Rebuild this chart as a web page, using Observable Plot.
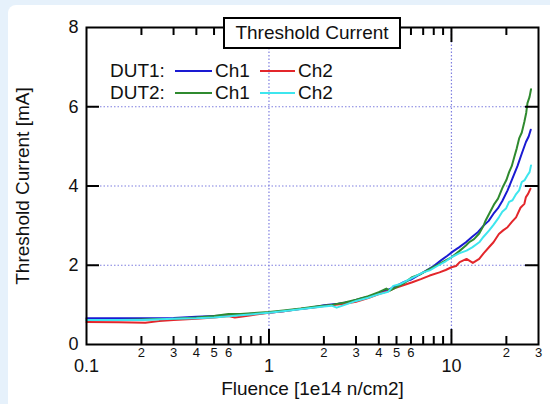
<!DOCTYPE html>
<html><head><meta charset="utf-8">
<script src="https://cdn.jsdelivr.net/npm/d3@7"></script>
<script src="https://cdn.jsdelivr.net/npm/@observablehq/plot@0.6"></script>
<style>
html,body{margin:0;padding:0;background:#e6f1fb;width:550px;height:404px;overflow:hidden;font-family:"Liberation Sans",Arial,sans-serif}
#card{position:absolute;left:8px;top:5px;right:0;bottom:0;background:#fff;border-top-left-radius:8px}
#chart{position:absolute;left:0;top:0}
#title{position:absolute;left:223px;top:17px;width:174px;height:28px;border:2px solid #000;background:#fff;font-size:19px;text-align:center;line-height:28px;color:#111}
.lt{position:absolute;font-size:19px;line-height:19px;color:#111;white-space:nowrap}
.ll{position:absolute;height:2px}
</style></head>
<body>
<div id="card"></div>
<div id="chart"></div>
<div id="title">Threshold Current</div>
<div id="legend"></div>
<script>
// ---- data ----
const blueF = [0.1,0.13,0.17,0.22,0.3,0.4,0.5,0.6,0.7,0.85,1.0,1.2,1.4,1.7,2.0,2.4,2.8,3.2,3.6,4.0,4.5,5.0,5.5,6.0,6.6,7.2,8.0,8.8,9.5,10.2,11.0,12.0,13.0,14.0,15.0,16.0,17.0,18.0,19.0,20.3,21.6,23.0,24.3,25.6,26.5,27.2];
const blueV = [0.66,0.66,0.66,0.66,0.67,0.70,0.72,0.74,0.76,0.78,0.80,0.84,0.88,0.93,0.99,1.03,1.08,1.16,1.22,1.30,1.38,1.48,1.58,1.64,1.75,1.85,1.98,2.13,2.24,2.35,2.45,2.58,2.72,2.84,3.00,3.12,3.30,3.44,3.62,3.89,4.19,4.50,4.82,5.11,5.25,5.42];
const redF = [0.1,0.15,0.21,0.25,0.3,0.4,0.5,0.6,0.65,0.7,0.8,1.0,1.2,1.5,1.8,2.0,2.3,2.6,3.0,3.5,4.04,4.5,5.0,5.5,6.1,6.8,7.6,8.6,9.3,10.0,10.6,11.1,12.1,13.1,14.2,15.0,16.1,17.0,18.2,19.2,20.3,21.5,22.6,23.9,25.1,25.6,26.3,27.1];
const redV = [0.57,0.56,0.55,0.59,0.62,0.65,0.68,0.72,0.68,0.70,0.74,0.80,0.84,0.90,0.94,0.97,1.00,1.03,1.08,1.17,1.28,1.35,1.44,1.50,1.57,1.65,1.74,1.82,1.88,1.95,1.98,2.08,2.16,2.06,2.16,2.30,2.46,2.58,2.79,2.88,2.96,3.10,3.21,3.45,3.55,3.72,3.80,3.93];
const greenF = [0.1,0.15,0.2,0.3,0.4,0.5,0.6,0.7,0.8,1.0,1.2,1.5,1.8,2.2,2.6,3.0,3.5,4.0,4.4,4.6,5.0,5.5,6.1,6.8,7.6,8.5,9.3,10.0,11.0,12.0,12.5,13.3,14.2,15.0,15.4,16.1,17.2,18.0,19.1,20.0,20.7,21.4,22.1,22.8,23.5,24.3,25.1,25.7,26.1,26.8,27.3];
const greenV = [0.62,0.62,0.63,0.65,0.68,0.72,0.77,0.77,0.79,0.82,0.86,0.91,0.96,1.00,1.06,1.13,1.22,1.32,1.41,1.36,1.45,1.55,1.70,1.78,1.91,2.02,2.12,2.20,2.35,2.50,2.58,2.66,2.80,3.00,3.13,3.30,3.55,3.68,3.97,4.15,4.35,4.50,4.73,4.95,5.20,5.35,5.62,5.85,6.09,6.25,6.44];
const cyanF = [0.1,0.15,0.2,0.3,0.4,0.5,0.7,1.0,1.3,1.6,2.0,2.2,2.35,2.6,3.0,3.5,4.0,4.5,4.8,5.2,6.1,7.0,7.6,8.5,9.3,10.0,11.0,12.1,13.0,14.2,15.0,16.1,17.0,18.2,19.0,19.9,20.7,21.6,22.5,23.5,24.3,25.2,26.1,26.8,27.3];
const cyanV = [0.62,0.62,0.62,0.65,0.66,0.68,0.74,0.80,0.86,0.91,0.96,0.98,0.93,1.00,1.10,1.18,1.27,1.33,1.48,1.52,1.68,1.82,1.87,2.00,2.10,2.20,2.30,2.37,2.45,2.58,2.72,2.88,3.02,3.21,3.35,3.43,3.60,3.64,3.78,3.89,4.10,4.15,4.27,4.35,4.52];

const seriesNames = ["DUT1 Ch1","DUT1 Ch2","DUT2 Ch1","DUT2 Ch2"];
const seriesColors = ["#1a1ad2","#e3262b","#2f8a2f","#3ee6ee"];
const legendRows = ["DUT1:","DUT2:"];
const legendItems = ["Ch1","Ch2"];

const yTicks = [0,2,4,6,8];
const yGrid = [2,4,6];
const xGrid = [1,10];
const xMajor = [0.1,1,10];
const xMajorLabels = ["0.1","1","10"];
const xMinor = [0.2,0.3,0.4,0.5,0.6,0.7,0.8,0.9,2,3,4,5,6,7,8,9,20];
const xMinorLabelVals = [0.2,0.3,0.4,0.5,0.6,2,3,4,5,6,20,30];
const xMinorLabels = ["2","3","4","5","6","2","3","4","5","6","2","3"];
const xLabel = "Fluence [1e14 n/cm2]";
const yLabel = "Threshold Current [mA]";

// ---- build ----
const pairs = [[blueF,blueV],[redF,redV],[greenF,greenV],[cyanF,cyanV]];
const data = [];
pairs.forEach(([F,V],i)=>F.forEach((f,j)=>data.push({s:seriesNames[i],f,v:V[j]})));
const order = [0,1,2,3];

const W=550,H=404,mL=86,mR=12,mT=27,mB=60;
const pH=H-mT-mB, pW=W-mL-mR;
const font='"Liberation Sans", Arial, sans-serif';

const chart = Plot.plot({
  width:W,height:H,marginLeft:mL,marginRight:mR,marginTop:mT,marginBottom:mB,
  style:{background:"transparent",fontFamily:font,color:"#111"},
  x:{type:"log",domain:[0.1,30],axis:null},
  y:{domain:[0,8],axis:null},
  color:{domain:seriesNames,range:seriesColors},
  marks:[
    Plot.gridX(xGrid,{stroke:"#7f7fe0",strokeOpacity:1,strokeDasharray:"1.5,2",strokeWidth:1.2}),
    Plot.gridY(yGrid,{stroke:"#7f7fe0",strokeOpacity:1,strokeDasharray:"1.5,2",strokeWidth:1.2}),
    ...order.map(i=>Plot.line(data.filter(d=>d.s===seriesNames[i]),{x:"f",y:"v",stroke:"s",strokeWidth:2})),
    Plot.ruleX(xMinor,{insetTop:pH-8,stroke:"#000",strokeWidth:2}),
    Plot.ruleX(xGrid,{insetTop:pH-15,stroke:"#000",strokeWidth:2}),
    Plot.ruleX(xMinor,{insetBottom:pH-8,stroke:"#000",strokeWidth:2}),
    Plot.ruleX(xGrid,{insetBottom:pH-15,stroke:"#000",strokeWidth:2}),
    Plot.ruleY(yGrid,{insetRight:pW-13,stroke:"#000",strokeWidth:2}),
    Plot.ruleY(yGrid,{insetLeft:pW-13,stroke:"#000",strokeWidth:2}),
    Plot.frame({stroke:"#000",strokeWidth:2}),
    Plot.text(yTicks,{y:d=>d,frameAnchor:"left",dx:-8,textAnchor:"end",text:d=>String(d),fontSize:18,fill:"#111"}),
    Plot.text(xMajor,{x:d=>d,frameAnchor:"bottom",dy:27,text:(d,i)=>xMajorLabels[i],fontSize:18,fill:"#111"}),
    Plot.text(xMinorLabelVals,{x:d=>d,frameAnchor:"bottom",dy:12.5,text:(d,i)=>xMinorLabels[i],fontSize:13,fill:"#111"}),
    Plot.text([xLabel],{frameAnchor:"bottom",dy:50,text:d=>d,fontSize:19,fill:"#111"}),
    Plot.text([yLabel],{frameAnchor:"left",dx:-64,rotate:-90,textAnchor:"middle",text:d=>d,fontSize:19,fill:"#111"})
  ]
});
document.getElementById("chart").appendChild(chart);

// legend
const leg = document.getElementById("legend");
const rowTop = [61, 83];
const lineX = [[175,212],[260,295]];
const textX = [215,298];
legendRows.forEach((r,ri)=>{
  const t=document.createElement("div");t.className="lt";t.style.left="110px";t.style.top=rowTop[ri]+"px";t.textContent=r;leg.appendChild(t);
  legendItems.forEach((c,ci)=>{
    const k=ri*2+ci;
    const l=document.createElement("div");l.className="ll";
    l.style.left=lineX[ci][0]+"px";l.style.width=(lineX[ci][1]-lineX[ci][0])+"px";
    l.style.top=(rowTop[ri]+9)+"px";l.style.background=seriesColors[k];leg.appendChild(l);
    const tt=document.createElement("div");tt.className="lt";tt.style.left=textX[ci]+"px";tt.style.top=rowTop[ri]+"px";tt.textContent=c;leg.appendChild(tt);
  });
});
</script>
</body></html>
